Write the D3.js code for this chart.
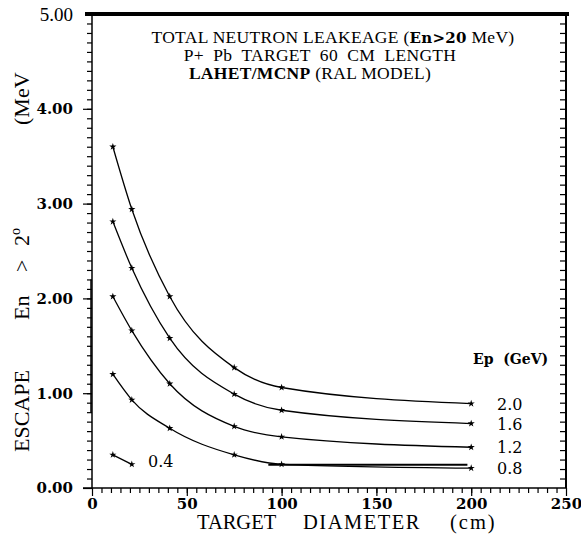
<!DOCTYPE html>
<html>
<head>
<meta charset="UTF-8">
<title>Neutron leakage</title>
<script src="https://cdn.jsdelivr.net/npm/d3@7/dist/d3.min.js"></script>
<style>
  body { margin: 0; background: #fff; }
  text { fill: #000; }
</style>
</head>
<body>
<script>
// target diameters (cm) where the runs were made
var diameters = [11, 21, 41, 75, 100, 200];
// escape (MeV) for each proton energy
var ep20 = [3.60, 2.94, 2.02, 1.27, 1.06, 0.89];
var ep16 = [2.81, 2.32, 1.58, 0.99, 0.82, 0.68];
var ep12 = [2.02, 1.66, 1.10, 0.65, 0.54, 0.43];
var ep08 = [1.20, 0.93, 0.63, 0.35, 0.25, 0.21];
var ep04x = [11, 21];
var ep04 = [0.35, 0.25];
var seriesNames = ["2.0", "1.6", "1.2", "0.8"];
var yTicks = [0, 1, 2, 3, 4, 5];
var xTicks = [0, 50, 100, 150, 200, 250];

var w = 581, h = 542;
var svg = d3.select("body").append("svg")
    .attr("width", w)
    .attr("height", h);

var x = d3.scaleLinear().domain([0, 250]).range([92, 566]);
var y = d3.scaleLinear().domain([0, 5]).range([488, 14]);

var serif = "Liberation Serif, Times New Roman, serif";
var dserif = "DejaVu Serif, serif";

// frame
svg.append("line").attr("x1", 85).attr("x2", 569).attr("y1", y(5)).attr("y2", y(5))
    .attr("stroke", "#000").attr("stroke-width", 4);
svg.append("line").attr("x1", x(250)).attr("x2", x(250)).attr("y1", y(5)).attr("y2", y(0))
    .attr("stroke", "#000").attr("stroke-width", 2);
svg.append("line").attr("x1", x(0)).attr("x2", x(0)).attr("y1", y(5)).attr("y2", y(0))
    .attr("stroke", "#000").attr("stroke-width", 1.5);
svg.append("line").attr("x1", x(0) - 1).attr("x2", x(0) - 1).attr("y1", y(2.2)).attr("y2", y(0.8))
    .attr("stroke", "#000").attr("stroke-width", 1.5);
svg.append("line").attr("x1", 83).attr("x2", x(250)).attr("y1", y(0)).attr("y2", y(0))
    .attr("stroke", "#000").attr("stroke-width", 1.5);

// minor ticks
var minorY = d3.range(1, 50).map(function (i) { return i / 10; });
var minorX = d3.range(1, 50).map(function (i) { return i * 5; });

function cleanAxis(g) {
    g.attr("font-family", null);
    g.select(".domain").remove();
    g.selectAll(".tick line").attr("stroke", "#000").attr("stroke-width", 1.2);
}

svg.append("g").attr("transform", "translate(" + x(0) + ",0)")
    .call(d3.axisLeft(y).tickValues(minorY).tickSize(5).tickFormat(""))
    .call(cleanAxis);
svg.append("g").attr("transform", "translate(" + x(250) + ",0)")
    .call(d3.axisLeft(y).tickValues(minorY).tickSize(6).tickFormat(""))
    .call(cleanAxis);
svg.append("g").attr("transform", "translate(0," + y(0) + ")")
    .call(d3.axisBottom(x).tickValues(minorX).tickSize(5).tickFormat(""))
    .call(cleanAxis);

// major y ticks + labels
var yAxis = svg.append("g").attr("transform", "translate(" + x(0) + ",0)")
    .call(d3.axisLeft(y).tickValues(yTicks).tickSize(9).tickPadding(10).tickFormat(d3.format(".2f")))
    .call(cleanAxis);
yAxis.selectAll(".tick text")
    .style("font-family", dserif).style("font-weight", "bold").style("font-size", "15px")
    .attr("fill", "#000");
yAxis.selectAll(".tick").filter(function (d) { return d === 5; })
    .select("text").style("font-family", serif).style("font-weight", "normal").style("font-size", "19px");
yAxis.selectAll(".tick").filter(function (d) { return d === 5; }).select("line").remove();

// major x ticks + labels
var xAxis = svg.append("g").attr("transform", "translate(0," + y(0) + ")")
    .call(d3.axisBottom(x).tickValues(xTicks).tickSize(8).tickPadding(2).tickFormat(d3.format("d")))
    .call(cleanAxis);
xAxis.selectAll(".tick text")
    .style("font-family", dserif).style("font-weight", "bold").style("font-size", "15px")
    .attr("fill", "#000");

// title block
var title = svg.append("g").style("font-family", serif).style("font-size", "17.5px").attr("text-anchor", "middle");
var t1 = title.append("text").attr("x", 333).attr("y", 43).style("letter-spacing", "0.3px");
t1.append("tspan").text("TOTAL NEUTRON LEAKEAGE (");
t1.append("tspan").style("font-family", dserif).style("font-weight", "bold").style("font-size", "15px").text("En>20");
t1.append("tspan").text(" MeV)");
title.append("text").attr("x", 320).attr("y", 61).style("white-space", "pre").style("letter-spacing", "0.3px")
    .text("P+  Pb  TARGET  60  CM  LENGTH");
var t3 = title.append("text").attr("x", 310).attr("y", 79).style("letter-spacing", "0.3px");
t3.append("tspan").style("font-weight", "bold").text("LAHET/MCNP");
t3.append("tspan").text(" (RAL MODEL)");

// axis titles
var xt = svg.append("text").attr("y", 529)
    .style("font-family", serif).style("font-size", "20.5px");
xt.append("tspan").attr("x", 197).text("TARGET");
xt.append("tspan").attr("x", 303).style("letter-spacing", "1.5px").text("DIAMETER");
xt.append("tspan").attr("x", 450).style("letter-spacing", "2px").text("(cm)");

var yt = svg.append("text").attr("transform", "translate(29,0) rotate(-90)")
    .style("font-family", serif).style("font-size", "22px");
yt.append("tspan").attr("x", -452).text("ESCAPE");
yt.append("tspan").attr("x", -320).text("En");
yt.append("tspan").attr("x", -272).text(">");
yt.append("tspan").attr("x", -246).text("2");
yt.append("tspan").style("font-size", "14px").attr("dy", -9).text("o");
yt.append("tspan").attr("x", -125).attr("dy", 9).text("(MeV");

// curves
var line = d3.line()
    .x(function (d) { return x(d[0]); })
    .y(function (d) { return y(d[1]); })
    .curve(d3.curveMonotoneX);

var allSeries = [ep20, ep16, ep12, ep08].map(function (vals) {
    return diameters.map(function (dd, i) { return [dd, vals[i]]; });
});
allSeries.push(ep04x.map(function (dd, i) { return [dd, ep04[i]]; }));

svg.selectAll("path.curve")
    .data(allSeries)
    .enter()
    .append("path")
    .attr("class", "curve")
    .attr("d", line)
    .attr("fill", "none")
    .attr("stroke", "#000")
    .attr("stroke-width", 1.3);

// flat overlay segment near the 0.8 curve
svg.append("line").attr("x1", x(93)).attr("x2", x(198)).attr("y1", y(0.245)).attr("y2", y(0.245))
    .attr("stroke", "#000").attr("stroke-width", 2.2);

var pts = [];
allSeries.forEach(function (s) { s.forEach(function (p) { pts.push(p); }); });
svg.selectAll("path.mark")
    .data(pts)
    .enter()
    .append("path")
    .attr("class", "mark")
    .attr("transform", function (d) { return "translate(" + x(d[0]) + "," + y(d[1]) + ")"; })
    .attr("d", d3.symbol().type(d3.symbolStar).size(16))
    .attr("fill", "#000");

// curve labels
var endVals = [ep20[5], ep16[5], ep12[5], ep08[5]];
svg.selectAll("text.lab")
    .data(seriesNames)
    .enter()
    .append("text")
    .attr("class", "lab")
    .attr("x", 497)
    .attr("y", function (d, i) { return y(endVals[i]) + 6; })
    .style("font-family", dserif).style("font-size", "16px")
    .text(function (d) { return d; });
svg.append("text").attr("x", 148).attr("y", y(0.29) + 6)
    .style("font-family", dserif).style("font-size", "16px").text("0.4");
svg.append("text").attr("x", 473).attr("y", 364)
    .style("font-family", dserif).style("font-weight", "bold").style("font-size", "14px")
    .style("white-space", "pre").text("Ep  (GeV)");
</script>
</body>
</html>
